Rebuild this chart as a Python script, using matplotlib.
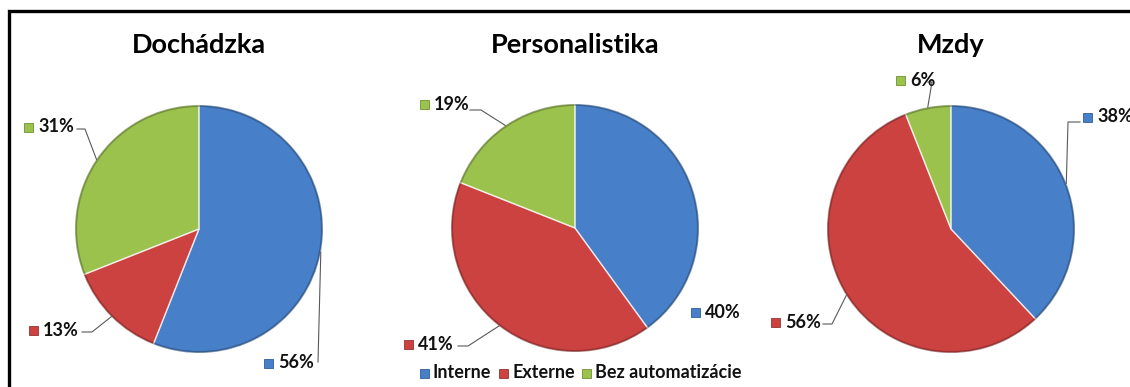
import numpy as np
import matplotlib.pyplot as plt
from matplotlib.patches import Rectangle, Circle

# data
titles = ['Dochádzka', 'Personalistika', 'Mzdy']
categories = ['Interne', 'Externe', 'Bez automatizácie']
values = [
    [56, 13, 31],
    [40, 41, 19],
    [38, 56, 6],
]

colors = ['#4780C8', '#CC4241', '#9CC24E']
edges = ['#2F5E9A', '#983230', '#6F8F33']

plt.rcParams['font.family'] = ['Lato', 'DejaVu Sans']

W, H = 1130, 387
fig = plt.figure(figsize=(W / 100, H / 100), dpi=100)
ax = fig.add_axes([0, 0, 1, 1])


def Y(y):
    # pixel row -> data y
    return H - y


centers = [(199, 229), (575, 228), (951, 229)]
radius = 124

# label layout per pie: (marker x, text y, elbow points in pixels or None)
label_layout = [
    [(268, 363, [(318, 362)]),
     (33, 330, [(82, 332), (92, 332)]),
     (28, 127, [(77, 129), (85, 129)])],
    [(695, 312, None),
     (408, 344, [(458, 346), (468, 346)]),
     (424, 104, [(470, 110), (481, 110)])],
    [(1087, 117, [(1080, 122), (1068, 122)]),
     (775, 322, [(823, 324), (832, 324)]),
     (900, 80, [(928, 82), (932, 82)])],
]

for i, vals in enumerate(values):
    cx, cy = centers[i]
    ax.pie(vals, colors=colors, startangle=90, counterclock=False,
           center=(cx, Y(cy)), radius=radius,
           wedgeprops=dict(linewidth=1.2, edgecolor='none'))
    # light seams between wedges + darker rim
    ax.pie(vals, colors=['none'] * 3, startangle=90, counterclock=False,
           center=(cx, Y(cy)), radius=radius,
           wedgeprops=dict(linewidth=1.0, edgecolor='#FFFFFF', alpha=0.6))
    ax.add_patch(Circle((cx, Y(cy)), radius - 1, facecolor='none',
                        edgecolor='black', alpha=0.25, linewidth=1.5))
    ax.text(cx, Y(45), titles[i], ha='center', va='center',
            fontsize=19.5, fontweight='bold', color='black')

    frac = np.cumsum([0] + vals) / sum(vals)
    for j, v in enumerate(vals):
        mid = np.deg2rad(90 - 360 * (frac[j] + frac[j + 1]) / 2)
        px = cx + radius * np.cos(mid)
        py = cy - radius * np.sin(mid)
        mx, ty, elbow = label_layout[i][j]
        ax.add_patch(Rectangle((mx - 4.5, Y(ty) - 4.5), 9, 9, facecolor=colors[j],
                               edgecolor=edges[j], linewidth=0.6))
        ax.text(mx + 10, Y(ty), f'{v}%', ha='left', va='center',
                fontsize=13, fontweight='bold', color='#111111')
        if elbow is not None:
            pts = elbow + [(px, py)]
            ax.plot([p[0] for p in pts], [Y(p[1]) for p in pts],
                    color='#595959', linewidth=0.8)

# legend
leg_x = [424, 503, 586]
for j, name in enumerate(categories):
    ax.add_patch(Rectangle((leg_x[j] - 4.5, Y(373) - 4.5), 9, 9, facecolor=colors[j],
                           edgecolor=edges[j], linewidth=0.6))
    ax.text(leg_x[j] + 9, Y(373), name, ha='left', va='center',
            fontsize=13, fontweight='bold', color='#111111')

# frame (only left and top visible)
ax.add_patch(Rectangle((8.5, -20), W + 50, Y(10.5) + 20, facecolor='none',
                       edgecolor='black', linewidth=2.4))

ax.set_xlim(0, W)
ax.set_ylim(0, H)
ax.set_aspect('equal')
ax.axis('off')

fig.savefig('out.png', dpi=100)
